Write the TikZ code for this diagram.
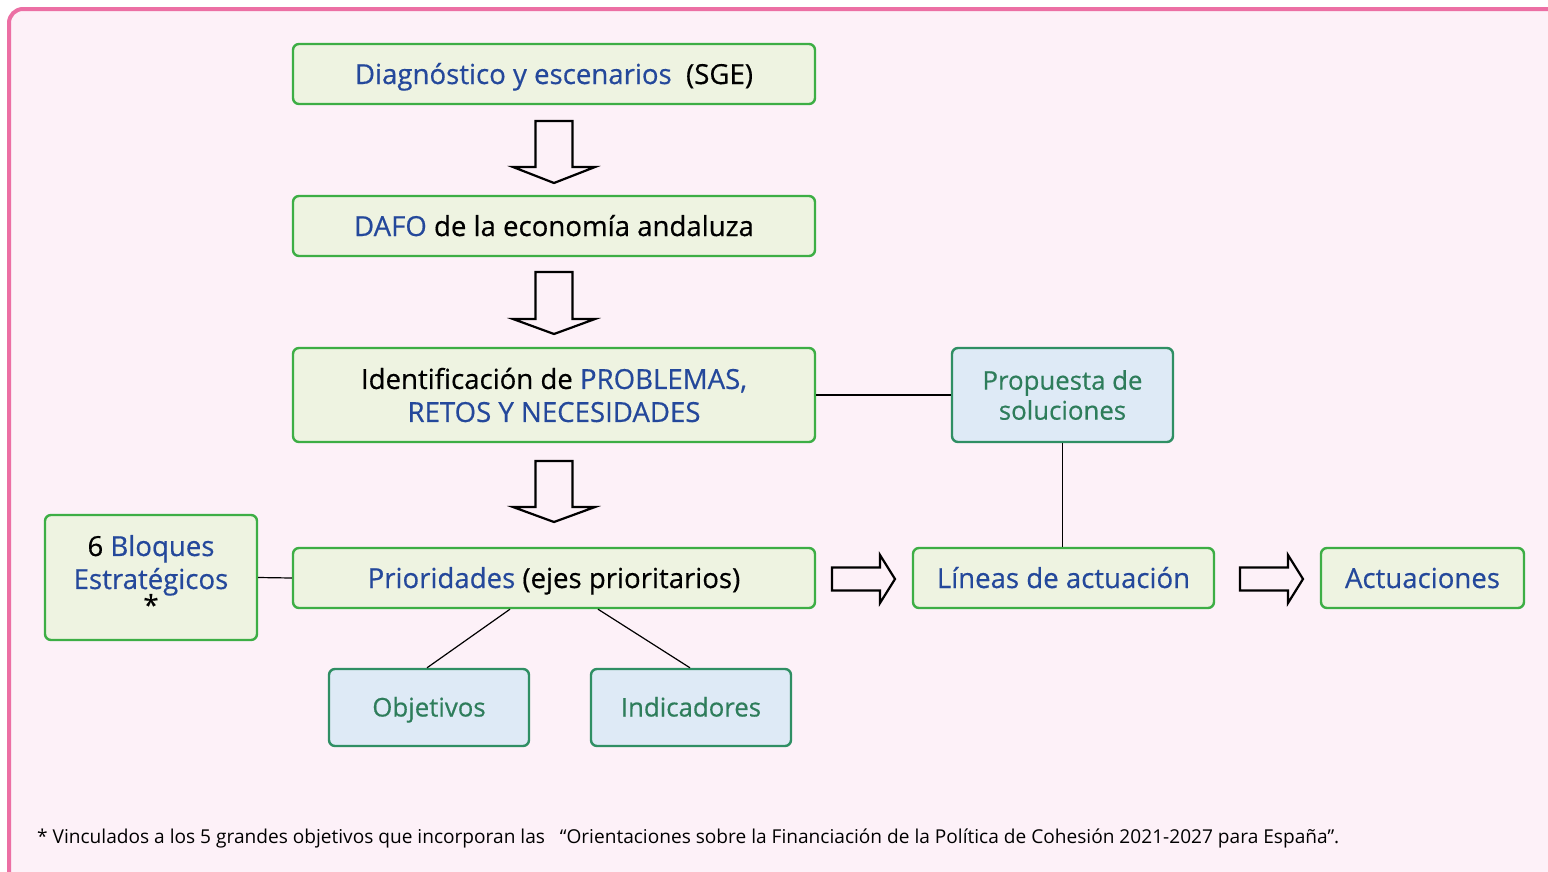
\documentclass[tikz,border=0pt]{standalone}
\usepackage{fontspec}
\setmainfont{Open Sans}
\newfontfamily\boxfont[FakeBold=0.5]{Open Sans}
\usetikzlibrary{calc}
\definecolor{pinkline}{HTML}{EC6FA4}
\definecolor{pinkbg}{HTML}{FDF1F8}
\definecolor{gstroke}{HTML}{3DAE45}
\definecolor{gfill}{HTML}{EEF3E1}
\definecolor{tstroke}{HTML}{2F8F64}
\definecolor{bfill}{HTML}{DEEAF6}
\definecolor{blueT}{HTML}{24489B}
\definecolor{tealT}{HTML}{2E7D5B}
\newcommand{\bt}[1]{\textcolor{blueT}{#1}}
\newcommand{\dnarrow}[4]{\draw[blockarrow] (#1-18.5,#2) -- (#1+18.5,#2) -- (#1+18.5,#3) -- (#1+41,#3) -- (#1,#4) -- (#1-41,#3) -- (#1-18.5,#3) -- cycle;}
\newcommand{\rtarrow}[2]{\draw[blockarrow] (#1,#2-11.5) -- (#1+48,#2-11.5) -- (#1+48,#2-24) -- (#1+63,#2) -- (#1+48,#2+24) -- (#1+48,#2+11.5) -- (#1,#2+11.5) -- cycle;}
\tikzset{
  gbox/.style={draw=gstroke, fill=gfill, line width=2.4pt, rounded corners=6pt, align=center, inner sep=0pt, font=\boxfont\fontsize{27.6}{33}\selectfont},
  bbox/.style={draw=tstroke, fill=bfill, line width=2.4pt, rounded corners=6pt, align=center, inner sep=0pt, text=tealT, font=\boxfont\fontsize{25.8}{30}\selectfont},
  oneline/.style={text height=24pt, text depth=4pt},
  onelinet/.style={text height=22pt, text depth=4pt},
  link/.style={draw=black, line width=1.2pt},
  blockarrow/.style={draw=black, line width=2.2pt, line join=miter}
}
\begin{document}
\begin{tikzpicture}[x=1pt,y=-1pt]
\useasboundingbox (0,0) rectangle (1548,871);
\clip (0,0) rectangle (1548,871);
\fill[white] (0,0) rectangle (1548,871);
\draw[pinkline, fill=pinkbg, line width=4pt, rounded corners=14pt] (9,9) rectangle (1575,900);

\node[gbox, oneline, minimum width=522pt, minimum height=60pt] (n1) at (554,74) {\bt{Diagnóstico y escenarios}~~(SGE)};
\node[gbox, oneline, minimum width=522pt, minimum height=60pt] (n2) at (554,226) {\bt{DAFO}~de la economía andaluza};
\node[gbox, minimum width=522pt, minimum height=94pt] (n3) at (554,395) {Identificación de \bt{PROBLEMAS,}\\\bt{RETOS Y NECESIDADES}};
\node[gbox, oneline, minimum width=522pt, minimum height=60pt] (n4) at (554,578) {\bt{Prioridades} (ejes prioritarios)};
\node[gbox, minimum width=212pt, minimum height=125pt] (bloq) at (151,577.5) {};
\node[align=center, inner sep=0pt, font=\boxfont\fontsize{27.6}{33}\selectfont] (bloqt) at (151,575) {6 \bt{Bloques}\\\bt{Estratégicos}\\[-7pt]*};
\node[bbox, onelinet, minimum width=200pt, minimum height=77pt] (obj) at (429,707.5) {Objetivos};
\node[bbox, onelinet, minimum width=200pt, minimum height=77pt] (ind) at (691,707.5) {Indicadores};
\node[bbox, minimum width=221pt, minimum height=94pt] (prop) at (1062.5,395) {Propuesta de\\soluciones};
\node[gbox, oneline, minimum width=301pt, minimum height=60pt] (lin) at (1063.5,578) {\bt{Líneas de actuación}};
\node[gbox, oneline, minimum width=203pt, minimum height=60pt] (act) at (1422.5,578) {\bt{Actuaciones}};

\dnarrow{554}{121}{167}{183}
\dnarrow{554}{272}{319}{334}
\dnarrow{554}{461}{507}{522}
\rtarrow{832}{579}
\rtarrow{1240}{579}

\draw[link] (bloq.east) -- (n4.west);
\draw[link] (n3.east) -- (prop.west);
\draw[link] (prop.south) -- (prop.south |- lin.north);
\draw[link] ($(n4.south)+(-44,0)$) -- ($(obj.north)+(-2,0)$);
\draw[link] ($(n4.south)+(44,0)$) -- ($(ind.north)+(-1,0)$);

\node[anchor=west, inner sep=0pt, font=\fontsize{19.1}{23}\selectfont] (foot) at (37,838) {* Vinculados a los 5 grandes objetivos que incorporan las~~~“Orientaciones sobre la Financiación de la Política de Cohesión 2021-2027 para España”.};
\end{tikzpicture}
\end{document}
